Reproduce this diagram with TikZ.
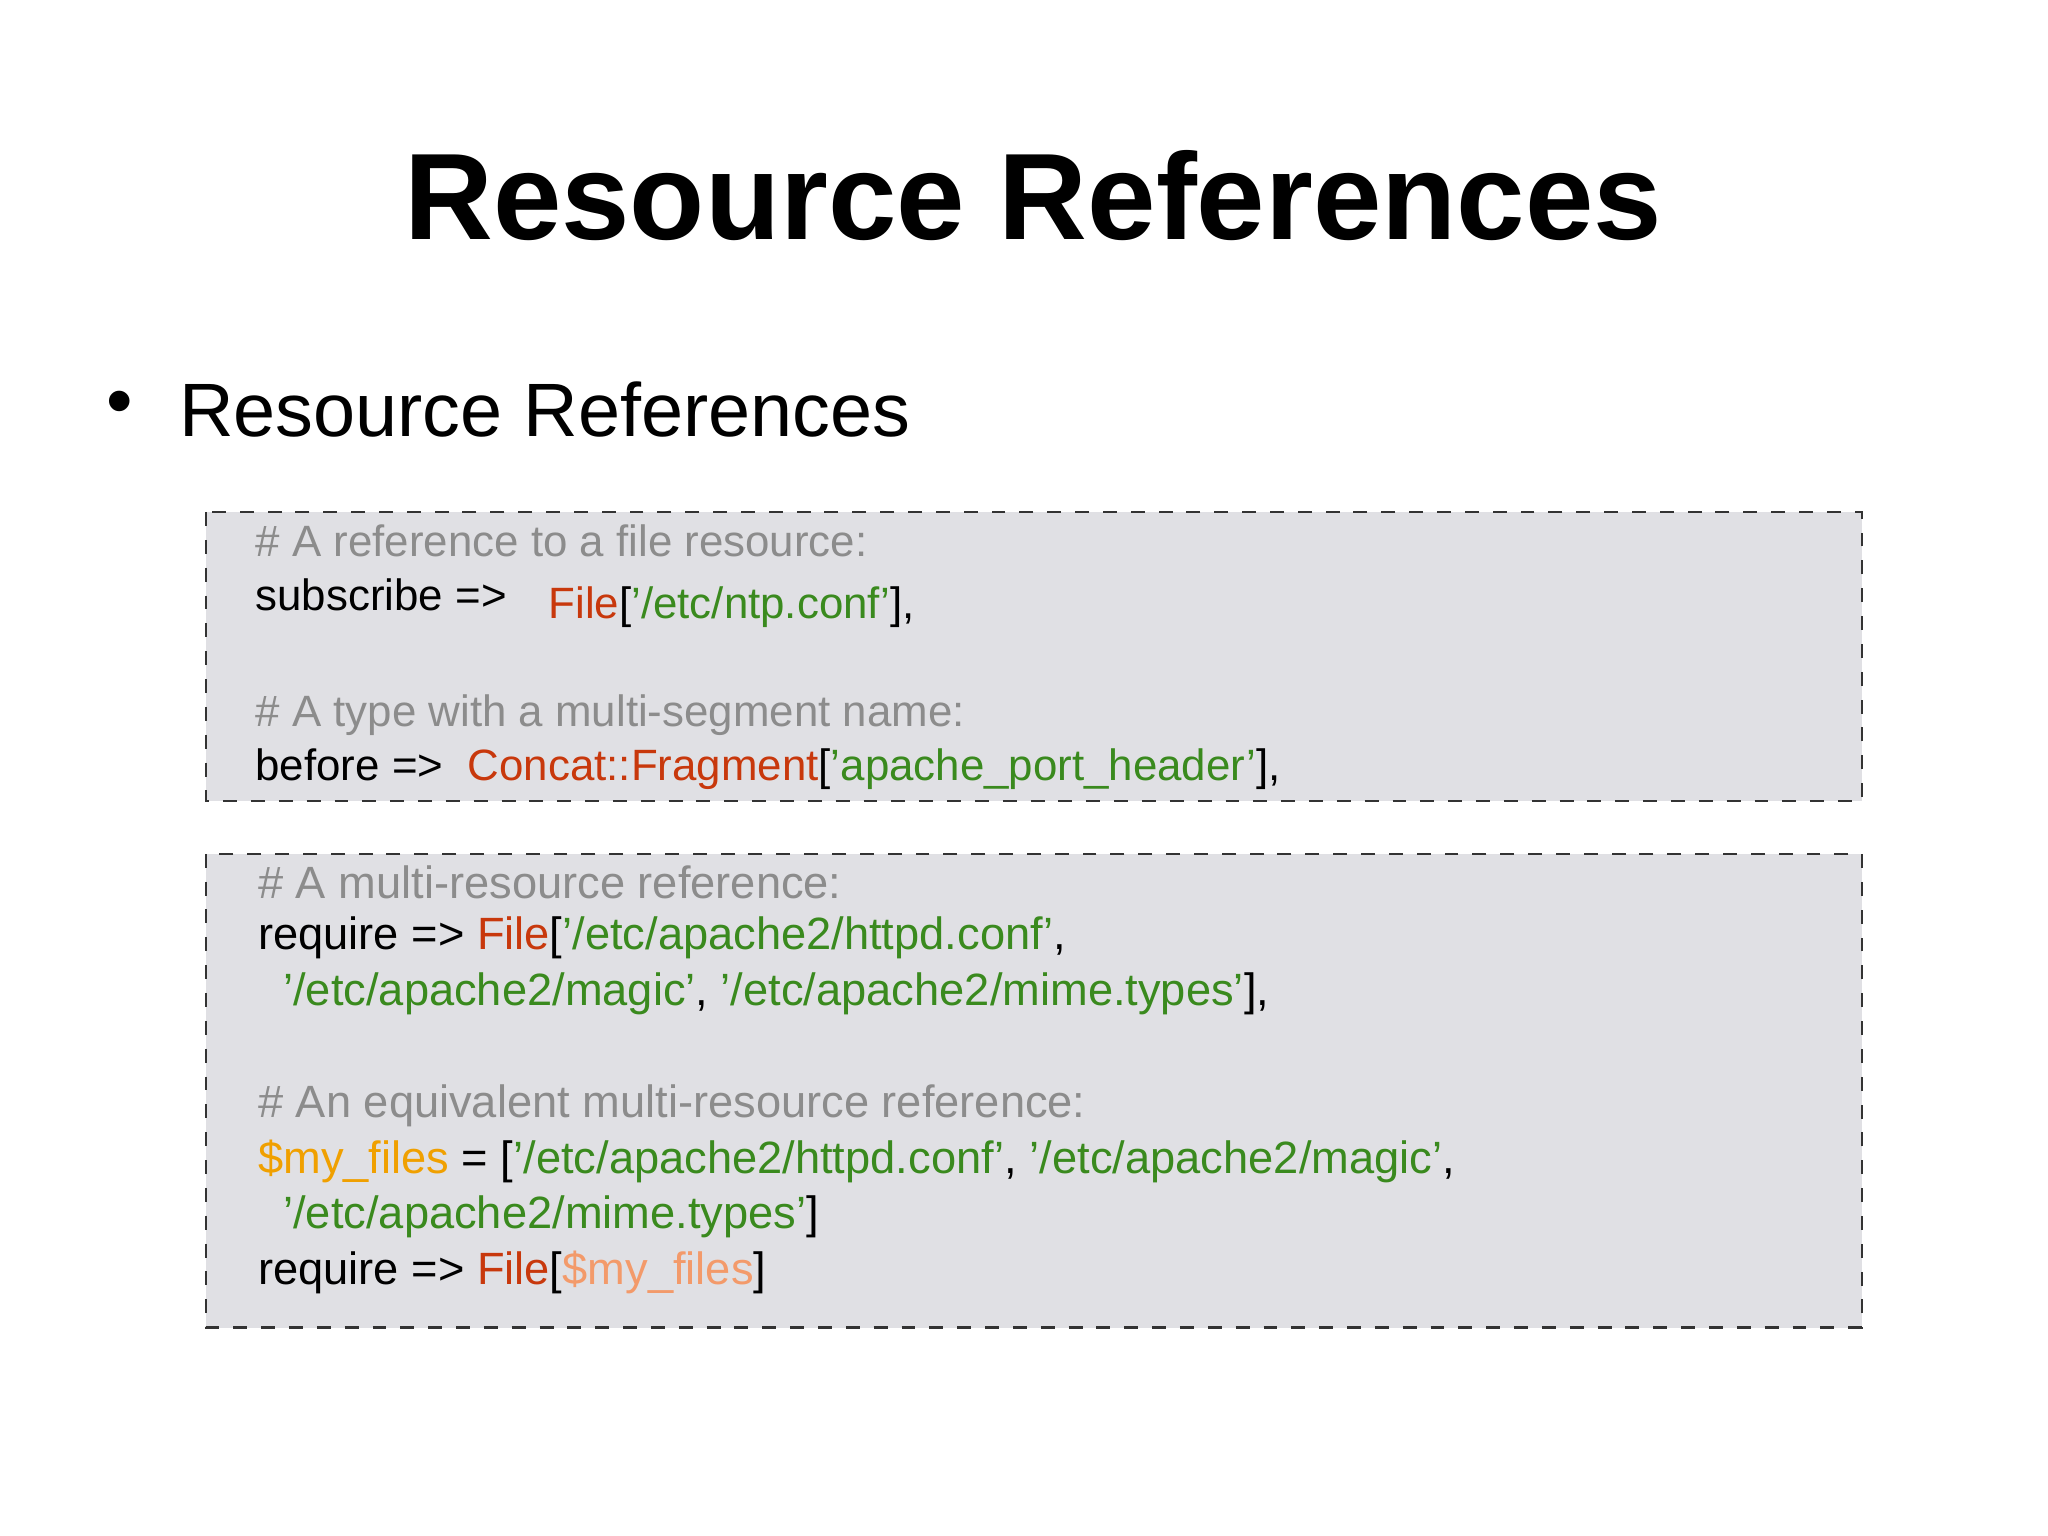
\documentclass[tikz,border=0pt]{standalone}
\usepackage{fontspec}
\setmainfont{Liberation Sans}
\newcommand{\qq}{\char"0027\relax}
\definecolor{cmt}{HTML}{8C8C8C}
\definecolor{kw}{HTML}{C8380C}
\definecolor{str}{HTML}{3A8A1E}
\definecolor{var}{HTML}{F0A000}
\definecolor{var2}{HTML}{F39A6A}
\definecolor{boxbg}{HTML}{E0E0E4}
\begin{document}
\begin{tikzpicture}[x=0.01cm,y=-0.01cm,
  codebox/.style={draw=black!80,dashed,fill=boxbg,line width=0.5pt},
  codeA/.style={anchor=west,inner sep=0pt,font=\fontsize{9.45pt}{11pt}\selectfont},
  codeB/.style={anchor=west,inner sep=0pt,font=\fontsize{9.75pt}{11pt}\selectfont}]
\useasboundingbox (0,0) rectangle (1552,1164);
\node[font=\fontsize{26.5pt}{30pt}\selectfont\bfseries] (title) at (783,148) {Resource References};
\node[anchor=west,inner sep=0pt,font=\fontsize{16.3pt}{19pt}\selectfont] (bul) at (80,310) {\textbullet};
\node[anchor=west,inner sep=0pt,font=\fontsize{16.3pt}{19pt}\selectfont] (sub) at (135,310) {Resource References};
\draw[codebox] (156,388) rectangle (1411,607);
\draw[codebox] (156,647) rectangle (1411,1006);
\node[codeA,text=cmt] (c1) at (193,410) {\# A reference to a file resource:};
\node[codeA] (l1) at (193,451) {subscribe =>};
\node[codeA] (l1b) at (415,460) {\textcolor{kw}{File}[\textcolor{str}{\qq/etc/ntp.conf\qq}],};
\node[codeA,text=cmt] (c2) at (193,542) {\# A type with a multi-segment name:};
\node[codeA] (l2) at (193,583) {before =>\ \ \textcolor{kw}{Concat::Fragment}[\textcolor{str}{\qq apache\_port\_header\qq}],};
\node[codeB,text=cmt] (c3) at (195,669) {\# A multi-resource reference:};
\node[codeB] (l3) at (195,711) {require => \textcolor{kw}{File}[\textcolor{str}{\qq/etc/apache2/httpd.conf\qq},};
\node[codeB] (l4) at (214,753) {\textcolor{str}{\qq/etc/apache2/magic\qq}, \textcolor{str}{\qq/etc/apache2/mime.types\qq}],};
\node[codeB,text=cmt] (c4) at (195,838) {\# An equivalent multi-resource reference:};
\node[codeB] (l5) at (195,880) {\textcolor{var}{\$my\_files} = [\textcolor{str}{\qq/etc/apache2/httpd.conf\qq}, \textcolor{str}{\qq/etc/apache2/magic\qq},};
\node[codeB] (l6) at (214,922) {\textcolor{str}{\qq/etc/apache2/mime.types\qq}]};
\node[codeB] (l7) at (195,964) {require => \textcolor{kw}{File}[\textcolor{var2}{\$my\_files}]};
\end{tikzpicture}
\end{document}
